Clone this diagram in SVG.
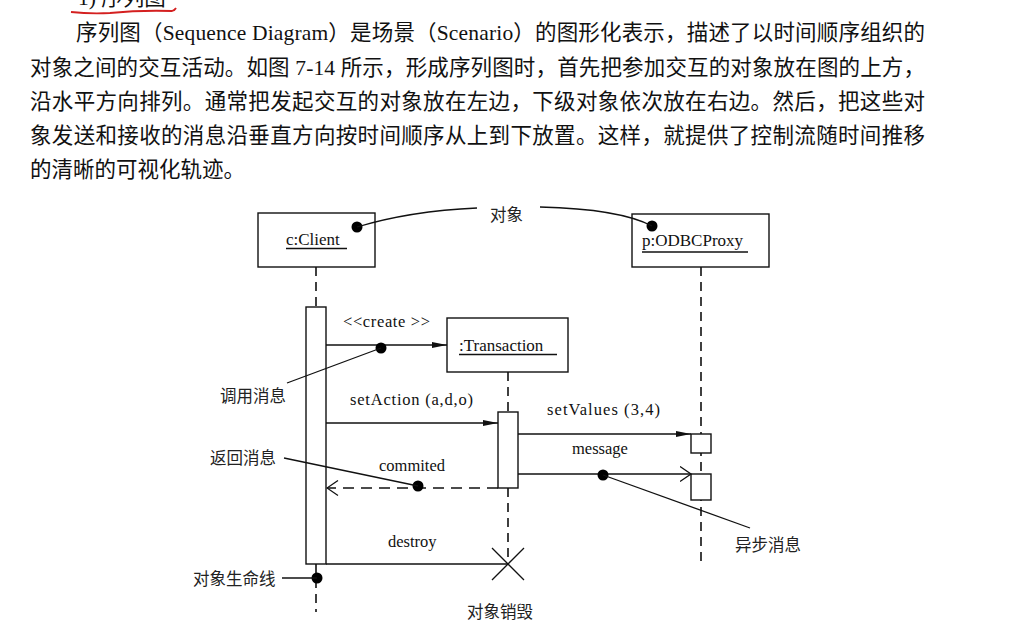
<svg xmlns="http://www.w3.org/2000/svg" width="1012" height="628" viewBox="0 0 1012 628">
<defs>
<style>
.para{font-family:"Liberation Serif","Noto Sans CJK SC",serif;font-size:21.5px;fill:#111}
.lbl{font-family:"Liberation Serif","Noto Sans CJK SC",serif;font-size:17px;fill:#111}
.msg{font-family:"Liberation Serif","Noto Sans CJK SC",serif;font-size:16.5px;fill:#111}
.cn{font-family:"Noto Sans CJK SC",sans-serif;font-size:16.5px;fill:#222}
.box{fill:#fff;stroke:#111;stroke-width:1.4}
.ln{fill:none;stroke:#111;stroke-width:1.3}
.life{fill:none;stroke:#111;stroke-width:1.6;stroke-dasharray:9,6}
.ret{fill:none;stroke:#111;stroke-width:1.6;stroke-dasharray:11,7}
.dot{fill:#000}
</style>
<marker id="fillArrow" markerWidth="16" markerHeight="8" refX="15" refY="4" orient="auto" markerUnits="userSpaceOnUse"><path d="M0,1 L15,4 L0,7 z" fill="#111"/></marker>
<marker id="openArrow" markerWidth="13" markerHeight="17" refX="11.5" refY="8.5" orient="auto" markerUnits="userSpaceOnUse"><path d="M0.5,1 L11.5,8.5 L0.5,16" fill="none" stroke="#111" stroke-width="1.3"/></marker>
</defs>
<rect width="1012" height="628" fill="#fff"/>

<g id="heading">
<text class="para" x="78" y="5">1) 序列图</text>
<path d="M71,12 Q90,14 110,13 Q140,10 172,11 Q175,10 176,8" fill="none" stroke="#d42020" stroke-width="1.8"/>
</g>

<g id="paragraph">
<text class="para" x="76" y="40" textLength="849" lengthAdjust="spacing">序列图（Sequence Diagram）是场景（Scenario）的图形化表示，描述了以时间顺序组织的</text>
<text class="para" x="30" y="74.5" textLength="895" lengthAdjust="spacing">对象之间的交互活动。如图 7-14 所示，形成序列图时，首先把参加交互的对象放在图的上方，</text>
<text class="para" x="30" y="109" textLength="895" lengthAdjust="spacing">沿水平方向排列。通常把发起交互的对象放在左边，下级对象依次放在右边。然后，把这些对</text>
<text class="para" x="30" y="142.5" textLength="895" lengthAdjust="spacing">象发送和接收的消息沿垂直方向按时间顺序从上到下放置。这样，就提供了控制流随时间推移</text>
<text class="para" x="30" y="177">的清晰的可视化轨迹。</text>
</g>

<g id="lifelines">
<line class="life" x1="316" y1="267" x2="316" y2="307"/>
<line class="life" x1="316" y1="564" x2="316" y2="612"/>
<line class="life" x1="508" y1="372" x2="508" y2="412"/>
<line class="life" x1="508" y1="488" x2="508" y2="564"/>
<line class="life" x1="701" y1="267" x2="701" y2="566"/>
</g>

<g id="client">
<rect class="box" x="258" y="213" width="117" height="54"/>
<text class="lbl" x="286" y="245">c:Client</text>
<line class="ln" x1="286" y1="248.5" x2="347" y2="248.5"/>
</g>

<g id="odbcproxy">
<rect class="box" x="632" y="214" width="137" height="53"/>
<text class="lbl" x="642" y="246">p:ODBCProxy</text>
<line class="ln" x1="642" y1="252" x2="748" y2="252"/>
</g>

<g id="transaction">
<rect class="box" x="447" y="318" width="121" height="54"/>
<text class="lbl" x="459" y="351">:Transaction</text>
<line class="ln" x1="459" y1="354.5" x2="557" y2="354.5"/>
</g>

<g id="activations">
<rect class="box" x="306" y="307" width="20" height="257"/>
<rect class="box" x="498" y="412" width="20" height="76"/>
<rect class="box" x="691" y="434" width="20" height="19"/>
<rect class="box" x="691" y="474" width="20" height="26"/>
</g>

<g id="connectors">
<line class="ln" x1="326" y1="345" x2="447" y2="345" marker-end="url(#fillArrow)"/>
<text class="msg" x="343" y="327" textLength="87" lengthAdjust="spacing">&lt;&lt;create &gt;&gt;</text>
<line class="ln" x1="326" y1="423" x2="498" y2="423" marker-end="url(#fillArrow)"/>
<text class="msg" x="350" y="405" textLength="123" lengthAdjust="spacing">setAction (a,d,o)</text>
<line class="ret" x1="498" y1="488" x2="327" y2="488" marker-end="url(#openArrow)"/>
<text class="msg" x="379" y="471">commited</text>
<line class="ln" x1="518" y1="434" x2="691" y2="434" marker-end="url(#fillArrow)"/>
<text class="msg" x="547" y="415" textLength="113" lengthAdjust="spacing">setValues (3,4)</text>
<line class="ln" x1="518" y1="474" x2="691" y2="474" marker-end="url(#openArrow)"/>
<text class="msg" x="572" y="454">message</text>
<line class="ln" x1="326" y1="564" x2="508" y2="564"/>
<text class="msg" x="388" y="547">destroy</text>
<path class="ln" d="M492,548 L524,580 M524,548 L492,580"/>
</g>

<g id="note-object">
<circle class="dot" cx="357" cy="227" r="5.5"/>
<circle class="dot" cx="652" cy="226" r="5.5"/>
<path class="ln" d="M357,227 Q410,211 477,208"/>
<path class="ln" d="M540,207 Q620,209 652,226"/>
<text class="cn" x="490" y="221">对象</text>
</g>

<g id="note-call">
<circle class="dot" cx="381" cy="348" r="5.5"/>
<line class="ln" x1="287" y1="383" x2="381" y2="348"/>
<text class="cn" x="220" y="402">调用消息</text>
</g>

<g id="note-return">
<circle class="dot" cx="418" cy="486" r="5.5"/>
<line class="ln" x1="284" y1="458" x2="418" y2="486"/>
<text class="cn" x="210" y="464">返回消息</text>
</g>

<g id="note-async">
<circle class="dot" cx="603" cy="475" r="5.5"/>
<line class="ln" x1="603" y1="475" x2="750" y2="528"/>
<text class="cn" x="735" y="551">异步消息</text>
</g>

<g id="note-lifeline">
<circle class="dot" cx="317" cy="578" r="5.5"/>
<line class="ln" x1="282" y1="578" x2="317" y2="578"/>
<text class="cn" x="193" y="585">对象生命线</text>
</g>

<g id="note-destroy">
<text class="cn" x="467" y="618">对象销毁</text>
</g>
</svg>
